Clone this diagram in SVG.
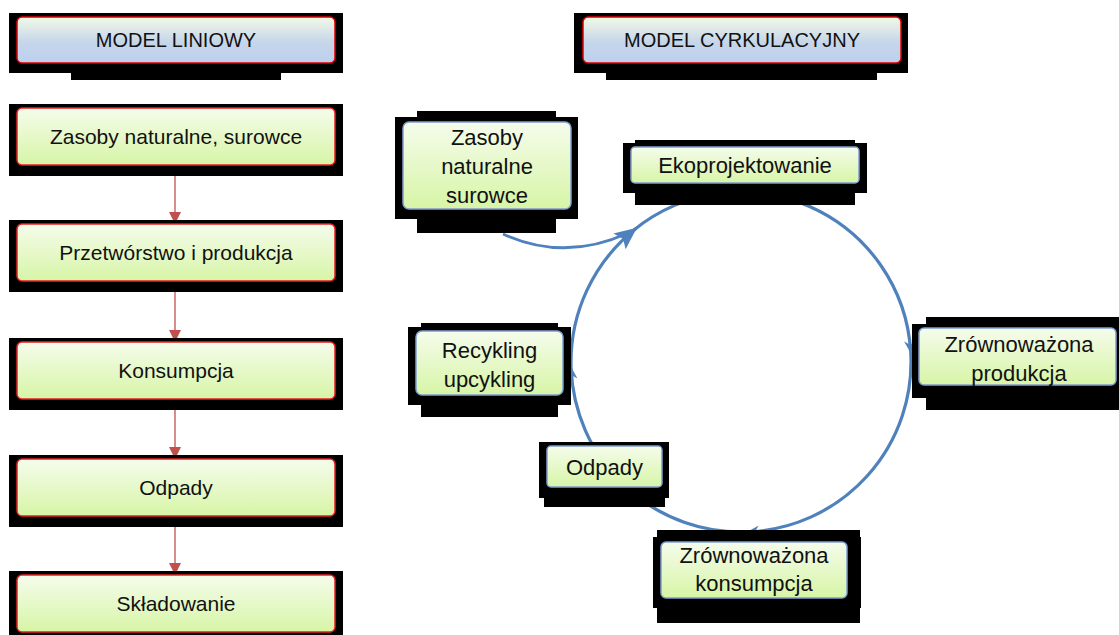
<svg xmlns="http://www.w3.org/2000/svg" width="1119" height="635" viewBox="0 0 1119 635">
<defs>
<linearGradient id="gGreen" x1="0" y1="0" x2="0" y2="1">
<stop offset="0" stop-color="#f5fcec"/>
<stop offset="1" stop-color="#d7f5a6"/>
</linearGradient>
<linearGradient id="gHead" x1="0" y1="0" x2="0" y2="1">
<stop offset="0" stop-color="#f2f9e6"/>
<stop offset="0.55" stop-color="#c6d6ea"/>
<stop offset="1" stop-color="#bcd0ee"/>
</linearGradient>
<marker id="redArrow" markerUnits="userSpaceOnUse" markerWidth="12" markerHeight="12" refX="10" refY="5" orient="auto" viewBox="0 0 10 10">
<path d="M0,0 L10,5 L0,10 z" fill="#c0504d"/>
</marker>
<marker id="smallArrow" markerUnits="userSpaceOnUse" markerWidth="12" markerHeight="12" refX="9" refY="5" orient="auto" viewBox="0 0 10 10">
<path d="M0,0 L10,5 L0,10 L3,5 z" fill="#4f81bd"/>
</marker>
<marker id="bigArrow" markerUnits="userSpaceOnUse" markerWidth="22" markerHeight="20" refX="19" refY="9" orient="auto" viewBox="0 0 20 18">
<path d="M0,0 L20,9 L0,18 L4,9 z" fill="#4f81bd"/>
</marker>
</defs>
<style>
.sh{fill:#000}
.lbox{fill:url(#gGreen);stroke:#e52222;stroke-width:1.5}
.hbox{fill:url(#gHead);stroke:#e00000;stroke-width:1.5}
.rbox{fill:url(#gGreen);stroke:#7f9fcf;stroke-width:1.5}
.t{font-family:"Liberation Sans",Arial,sans-serif;fill:#111;text-anchor:middle}
.tl{font-size:21px}
.th{font-size:20px}
.tr{font-size:22px}
.red{stroke:#c0504d;stroke-width:1.3;fill:none;marker-end:url(#redArrow)}
.blue{stroke:#4f81bd;stroke-width:3.2;fill:none}
</style>

<g id="connectors">
<line class="red" x1="175" y1="165" x2="175" y2="224"/>
<line class="red" x1="175" y1="281" x2="175" y2="342"/>
<line class="red" x1="175" y1="399" x2="175" y2="459"/>
<line class="red" x1="175" y1="516" x2="175" y2="575"/>
<path class="blue" d="M634,229.9 A170,170 0 0 1 910.7,351.9" marker-end="url(#smallArrow)"/>
<path class="blue" d="M910.7,351.9 A170,170 0 0 1 748.1,531.9" marker-end="url(#smallArrow)"/>
<path class="blue" d="M748.1,531.9 A170,170 0 0 1 571.1,367.9" marker-end="url(#smallArrow)"/>
<path class="blue" d="M571.1,367.9 A170,170 0 0 1 636,228.5" marker-end="url(#bigArrow)"/>
<path class="blue" style="stroke-width:2.8" d="M503,234 Q565,262 628,233"/>
</g>

<g id="head-linear">
<rect class="sh" x="9" y="13" width="334" height="60"/>
<rect class="sh" x="71" y="60" width="210" height="20"/>
<rect class="hbox" x="17" y="17" width="318" height="46" rx="5"/>
<text class="t th" x="176" y="47">MODEL LINIOWY</text>
</g>

<g id="head-circular">
<rect class="sh" x="574" y="13" width="334" height="60"/>
<rect class="sh" x="606" y="60" width="271" height="20"/>
<rect class="hbox" x="583" y="17" width="318" height="46" rx="5"/>
<text class="t th" x="742" y="47">MODEL CYRKULACYJNY</text>
</g>

<g id="l1">
<rect class="sh" x="9" y="104" width="334" height="72"/>
<rect class="lbox" x="17" y="108" width="318" height="57" rx="5"/>
<text class="t tl" x="176" y="144">Zasoby naturalne, surowce</text>
</g>
<g id="l2">
<rect class="sh" x="9" y="220" width="334" height="72"/>
<rect class="lbox" x="17" y="224" width="318" height="57" rx="5"/>
<text class="t tl" x="176" y="260">Przetwórstwo i produkcja</text>
</g>
<g id="l3">
<rect class="sh" x="9" y="338" width="334" height="72"/>
<rect class="lbox" x="17" y="342" width="318" height="57" rx="5"/>
<text class="t tl" x="176" y="378">Konsumpcja</text>
</g>
<g id="l4">
<rect class="sh" x="9" y="455" width="334" height="72"/>
<rect class="lbox" x="17" y="459" width="318" height="57" rx="5"/>
<text class="t tl" x="176" y="495">Odpady</text>
</g>
<g id="l5">
<rect class="sh" x="9" y="571" width="334" height="72"/>
<rect class="lbox" x="17" y="575" width="318" height="57" rx="5"/>
<text class="t tl" x="176" y="611">Składowanie</text>
</g>

<g id="r-zasoby">
<rect class="sh" x="395" y="117" width="183" height="102"/>
<rect class="sh" x="417" y="111" width="139" height="122"/>
<rect class="rbox" x="403" y="122" width="168" height="87" rx="6"/>
<text class="t tr" x="487" y="145">Zasoby</text>
<text class="t tr" x="487" y="174">naturalne</text>
<text class="t tr" x="487" y="203">surowce</text>
</g>

<g id="r-eko">
<rect class="sh" x="623" y="143" width="244" height="50"/>
<rect class="sh" x="635" y="140" width="220" height="65"/>
<rect class="rbox" x="631" y="147" width="228" height="36" rx="4"/>
<text class="t tr" x="745" y="173">Ekoprojektowanie</text>
</g>

<g id="r-zprod">
<rect class="sh" x="912" y="324" width="207" height="74"/>
<rect class="sh" x="926" y="317" width="193" height="93"/>
<rect class="rbox" x="919" y="328" width="197" height="57" rx="5"/>
<text class="t tr" x="1019" y="352">Zrównoważona</text>
<text class="t tr" x="1019" y="381">produkcja</text>
</g>

<g id="r-recykling">
<rect class="sh" x="408" y="327" width="163" height="78"/>
<rect class="sh" x="421" y="323" width="137" height="94"/>
<rect class="rbox" x="416" y="331" width="147" height="64" rx="6"/>
<text class="t tr" x="489.5" y="358">Recykling</text>
<text class="t tr" x="489.5" y="387">upcykling</text>
</g>

<g id="r-odpady">
<rect class="sh" x="539" y="442" width="130" height="56"/>
<rect class="sh" x="544" y="442" width="121" height="65"/>
<rect class="rbox" x="547" y="446" width="115" height="41" rx="4"/>
<text class="t tr" x="604.5" y="475">Odpady</text>
</g>

<g id="r-zkons">
<rect class="sh" x="653" y="537" width="208" height="71"/>
<rect class="sh" x="657" y="530" width="203" height="93"/>
<rect class="rbox" x="661" y="542" width="186" height="56" rx="5"/>
<text class="t tr" x="754" y="563">Zrównoważona</text>
<text class="t tr" x="754" y="591">konsumpcja</text>
</g>
</svg>
